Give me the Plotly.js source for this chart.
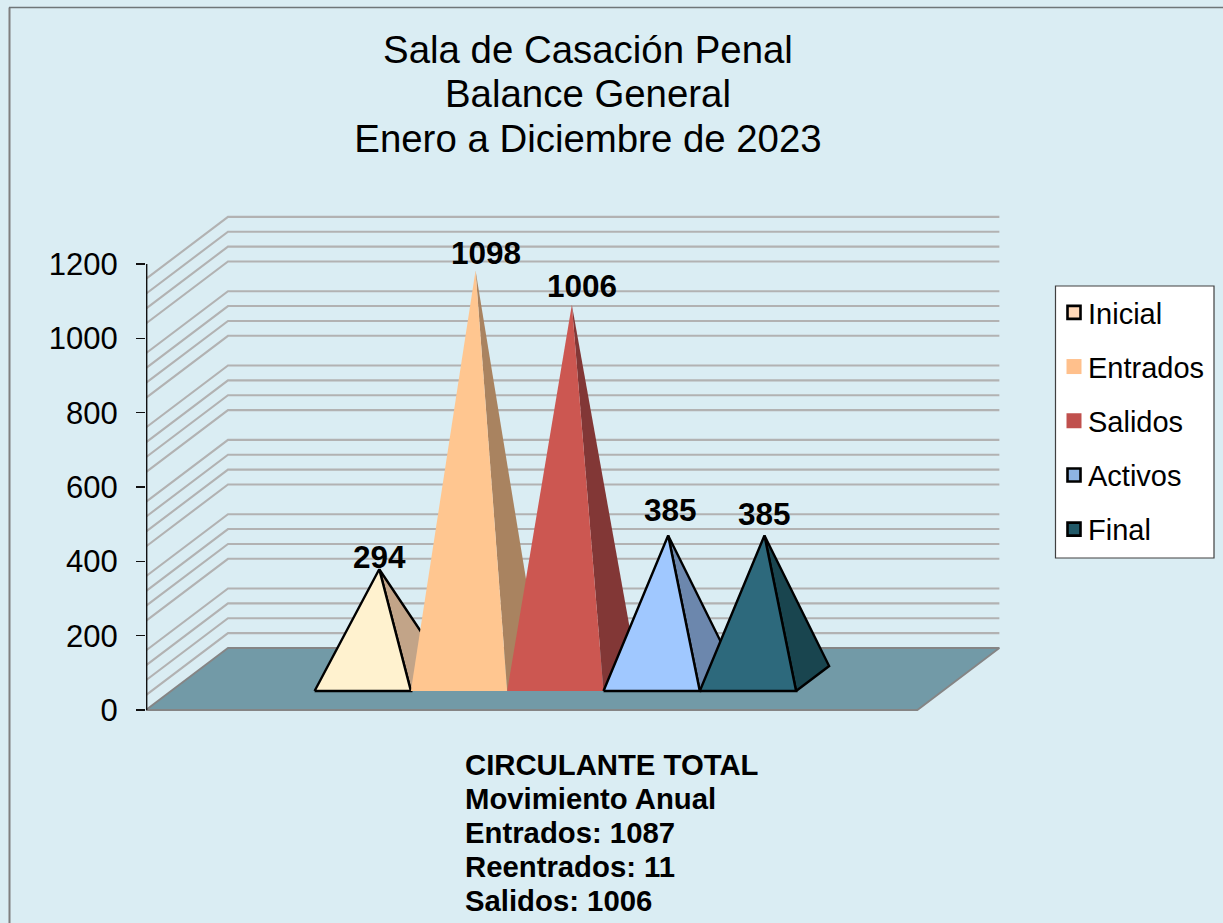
<!DOCTYPE html>
<html>
<head>
<meta charset="utf-8">
<script src="https://cdn.plot.ly/plotly-3.0.1.min.js"></script>
<style>html,body{margin:0;padding:0;background:#DAEDF3;overflow:hidden}#chart{width:1223px;height:923px}</style>
</head>
<body>
<div id="chart"></div>
<script>
// ---- data ----
const titleLines = ["Sala de Casación Penal", "Balance General", "Enero a Diciembre de 2023"];
const seriesNames = ["Inicial", "Entrados", "Salidos", "Activos", "Final"];
const seriesValues = [294, 1098, 1006, 385, 385];
const yTickValues = [0, 200, 400, 600, 800, 1000, 1200];
const gridValues = [40, 80, 120, 160, 240, 280, 320, 360, 440, 480, 520, 560, 640, 680, 720, 760, 840, 880, 920, 960, 1040, 1080, 1120, 1160];
const footLines = ["CIRCULANTE TOTAL", "Movimiento Anual", "Entrados: 1087", "Reentrados: 11", "Salidos: 1006"];

// ---- styles ----
const frontColors = ["#FFF2CF", "#FFC690", "#CC5751", "#A0C8FF", "#2D697C"];
const sideColors = ["#C2A488", "#A98360", "#823736", "#6C87AD", "#19454F"];
const legendColors = ["#FFD8B8", "#FFC08C", "#C0504D", "#8EB4E3", "#215968"];
const outlined = [true, false, false, true, true];
const labelShift = [[0, -12], [10, -17], [10, -19], [2, -25], [0, -21]];

// ---- oblique projection of the 3D box onto the plotly axes ----
const W = 1223, H = 923, L = 146, R = 1000, T = 200, B = 720;
const SLOT = 96.3, K = 446 / 1200, Y0 = 710;   // px per slot, px per value unit, px of value 0
const DX = 82 / SLOT, DY = 62 / K;             // screen shift of the full floor depth
const FLOOR_L = -1.49, FLOOR_R = 6.52, BASE_Z0 = 0.306, BASE_Z1 = 0.709;
const px = (x, v, z) => [x + z * DX, v + z * DY];
const pxX = p => (p - L) / (R - L), pxY = p => (B - p) / (B - T);

const traces = [];
// wall grid lines
const gx = [], gy = [];
gridValues.forEach(v => {
  [[FLOOR_L, 0], [FLOOR_L, 1], [FLOOR_R, 1]].forEach(([x, z]) => {
    const p = px(x, v, z); gx.push(p[0]); gy.push(p[1]);
  });
  gx.push(null); gy.push(null);
});
traces.push({x: gx, y: gy, mode: "lines", line: {color: "#B2B2B2", width: 2.1}, cliponaxis: false, showlegend: false, hoverinfo: "skip"});

// floor
const fc = [[FLOOR_L, 0], [FLOOR_R, 0], [FLOOR_R, 1], [FLOOR_L, 1], [FLOOR_L, 0]].map(([x, z]) => px(x, 0, z));
traces.push({x: fc.map(p => p[0]), y: fc.map(p => p[1]), mode: "lines", fill: "toself", fillcolor: "#729AA7",
  line: {color: "#858585", width: 1.8}, cliponaxis: false, showlegend: false, hoverinfo: "skip"});

// value axis line
traces.push({x: [FLOOR_L, FLOOR_L], y: [0, 1200], mode: "lines", line: {color: "#111", width: 2.8}, cliponaxis: false, showlegend: false, hoverinfo: "skip"});

// pyramids
const annotations = [];
seriesValues.forEach((v, i) => {
  const a = px(i, 0, BASE_Z0), b = px(i + 1, 0, BASE_Z0), c = px(i + 1, 0, BASE_Z1);
  const top = px(i + 0.5, v, (BASE_Z0 + BASE_Z1) / 2);
  const ln = outlined[i] ? {color: "#000", width: 2.4} : {color: "rgba(0,0,0,0)", width: 0};
  traces.push({x: [b[0], c[0], top[0], b[0]], y: [b[1], c[1], top[1], b[1]], mode: "lines", fill: "toself",
    fillcolor: sideColors[i], line: ln, showlegend: false, hoverinfo: "skip"});
  traces.push({x: [a[0], b[0], top[0], a[0]], y: [a[1], b[1], top[1], a[1]], mode: "lines", fill: "toself",
    fillcolor: frontColors[i], line: ln, showlegend: false, hoverinfo: "skip"});
  annotations.push({x: top[0], y: top[1], xref: "x", yref: "y", text: String(v), showarrow: false,
    xanchor: "center", yanchor: "middle", xshift: labelShift[i][0], yshift: -labelShift[i][1],
    font: {family: "Liberation Sans, Arial, sans-serif", size: 31.5, color: "#000", weight: 700}});
});

// legend entries
seriesNames.forEach((n, i) => {
  traces.push({x: [null], y: [null], mode: "markers", name: n, legendgroup: n, showlegend: true,
    marker: {symbol: "square", size: outlined[i] ? 13 : 15, color: legendColors[i],
      line: {color: "#000", width: outlined[i] ? 2.6 : 0}}, hoverinfo: "skip"});
});

// foot text
const footSize = 29.3;
annotations.push({xref: "paper", yref: "paper", x: pxX(463), y: pxY(832), xanchor: "left", yanchor: "middle", align: "left",
  showarrow: false, text: footLines.map(s => `<span style="font-size:${footSize}px">${s}</span>`).join("<br>"),
  font: {family: "Liberation Sans, Arial, sans-serif", size: 26.1, color: "#000", weight: 700}});

const titleSize = 38.4;
const layout = {
  width: W, height: H, autosize: false,
  paper_bgcolor: "#DAEDF3", plot_bgcolor: "rgba(0,0,0,0)",
  margin: {l: L, r: W - R, t: T, b: H - B, pad: 0},
  title: {text: titleLines.map(s => `<span style="font-size:${titleSize}px">${s}</span>`).join("<br>"),
    xref: "container", yref: "container", x: 588 / W, y: 1 - 63 / H, xanchor: "center", yanchor: "middle",
    font: {family: "Liberation Sans, Arial, sans-serif", size: 34.2, color: "#000"}},
  xaxis: {range: [FLOOR_L, FLOOR_L + (R - L) / SLOT], visible: false, fixedrange: true},
  yaxis: {range: [(Y0 - B) / K, (Y0 - T) / K], tickmode: "array", tickvals: yTickValues, ticktext: yTickValues.map(String),
    showgrid: false, zeroline: false, showline: false, ticks: "outside", ticklen: 9, tickwidth: 1.4, tickcolor: "#111",
    ticklabelstandoff: 12, tickfont: {family: "Liberation Sans, Arial, sans-serif", size: 31, color: "#000"}, fixedrange: true},
  showlegend: true,
  legend: {x: pxX(1048), y: pxY(287), xanchor: "left", yanchor: "top", bgcolor: "rgba(0,0,0,0)", borderwidth: 0,
    traceorder: "grouped", tracegroupgap: 13.5,
    font: {family: "Liberation Sans, Arial, sans-serif", size: 29, color: "#000"}},
  shapes: [
    {type: "rect", layer: "below", xref: "paper", yref: "paper", x0: pxX(1055.5), x1: pxX(1214), y0: pxY(286), y1: pxY(558),
      fillcolor: "#FFF", line: {color: "#404040", width: 1.2}},
    {type: "line", layer: "below", xref: "paper", yref: "paper", x0: pxX(9.5), x1: pxX(9.5), y0: pxY(7.5), y1: pxY(923),
      line: {color: "#7F7F7F", width: 2}},
    {type: "line", layer: "below", xref: "paper", yref: "paper", x0: pxX(9), x1: pxX(1223), y0: pxY(7.5), y1: pxY(7.5),
      line: {color: "#6F7678", width: 1.5}}
  ],
  annotations: annotations
};
Plotly.newPlot("chart", traces, layout, {displayModeBar: false, staticPlot: true, responsive: false}).then(() => {
  // the reference keeps its swatches closer to the legend text
  document.querySelectorAll(".legend .legendsymbols").forEach(el => el.setAttribute("transform", "translate(6,0)"));
});
</script>
</body>
</html>
